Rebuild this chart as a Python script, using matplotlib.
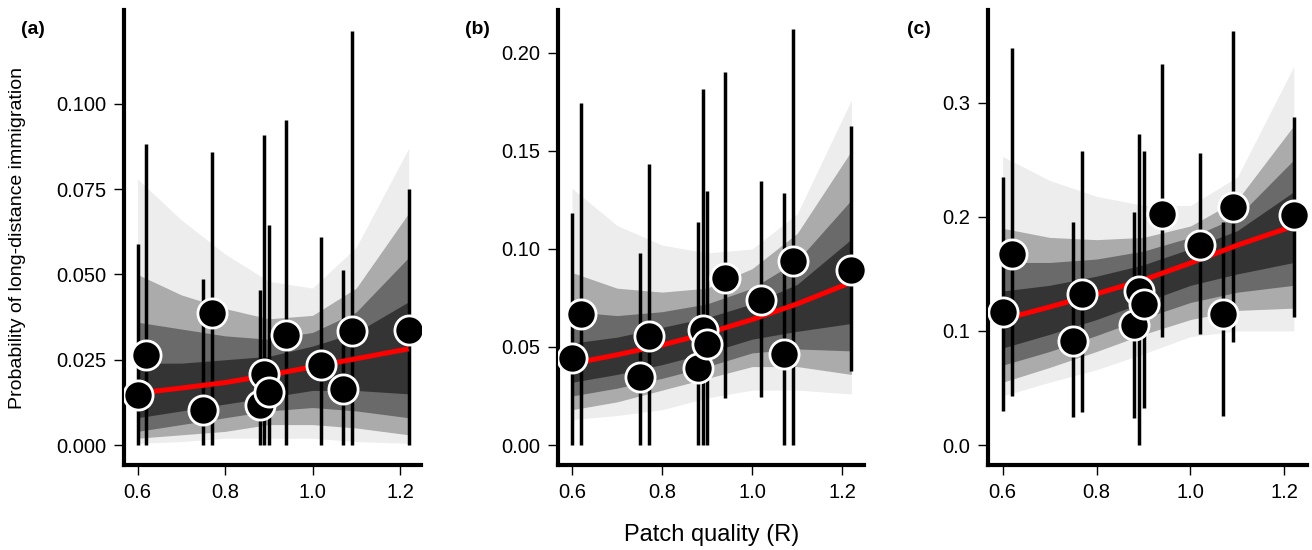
import numpy as np
import matplotlib.pyplot as plt

plt.rcParams['font.family'] = ['Liberation Sans', 'DejaVu Sans']

# patch quality (R) of the sites, same in all panels
quality = [0.60, 0.62, 0.75, 0.77, 0.88, 0.89, 0.90, 0.94, 1.02, 1.07, 1.09, 1.22]
grid = [0.60, 0.70, 0.80, 0.90, 1.00, 1.10, 1.22]

# ---- panel (a)
est_a = [0.0147, 0.0263, 0.0104, 0.0387, 0.0118, 0.0209, 0.0155, 0.0322, 0.0234, 0.0163, 0.0333, 0.0337]
lo_a = [0, 0, 0, 0, 0, 0, 0, 0, 0, 0, 0, 0]
hi_a = [0.0588, 0.0881, 0.0488, 0.0859, 0.0454, 0.0910, 0.0646, 0.0953, 0.0610, 0.0512, 0.1212, 0.0751]
mean_a = [0.0152, 0.0167, 0.0183, 0.0205, 0.0229, 0.0253, 0.0282]
outer_lo_a = [0.0005, 0.001, 0.002, 0.002, 0.002, 0.001, 0.0005]
outer_hi_a = [0.078, 0.066, 0.056, 0.048, 0.046, 0.058, 0.087]
q95_lo_a = [0.002, 0.003, 0.004, 0.006, 0.006, 0.005, 0.003]
q95_hi_a = [0.050, 0.044, 0.040, 0.037, 0.038, 0.046, 0.068]
q80_lo_a = [0.004, 0.006, 0.008, 0.010, 0.011, 0.010, 0.008]
q80_hi_a = [0.036, 0.034, 0.032, 0.031, 0.033, 0.039, 0.055]
q50_lo_a = [0.008, 0.010, 0.012, 0.014, 0.016, 0.016, 0.015]
q50_hi_a = [0.024, 0.024, 0.025, 0.026, 0.029, 0.033, 0.042]

# ---- panel (b)
est_b = [0.0442, 0.0670, 0.0349, 0.0555, 0.0394, 0.0585, 0.0514, 0.0850, 0.0738, 0.0464, 0.0938, 0.0895]
lo_b = [0, 0, 0, 0, 0, 0, 0, 0.0240, 0.0245, 0, 0, 0.0376]
hi_b = [0.1182, 0.1746, 0.0979, 0.1432, 0.1140, 0.1817, 0.1296, 0.1905, 0.1346, 0.1287, 0.2122, 0.1629]
mean_b = [0.0415, 0.046, 0.051, 0.057, 0.064, 0.072, 0.083]
outer_lo_b = [0.013, 0.015, 0.018, 0.024, 0.028, 0.028, 0.026]
outer_hi_b = [0.131, 0.112, 0.102, 0.098, 0.100, 0.118, 0.176]
q95_lo_b = [0.018, 0.022, 0.028, 0.034, 0.040, 0.040, 0.036]
q95_hi_b = [0.088, 0.080, 0.078, 0.080, 0.090, 0.108, 0.150]
q80_lo_b = [0.025, 0.029, 0.034, 0.040, 0.047, 0.049, 0.048]
q80_hi_b = [0.068, 0.066, 0.068, 0.072, 0.080, 0.094, 0.125]
q50_lo_b = [0.032, 0.036, 0.041, 0.047, 0.054, 0.058, 0.062]
q50_hi_b = [0.052, 0.055, 0.060, 0.065, 0.072, 0.082, 0.105]

# ---- panel (c)
est_c = [0.1162, 0.1676, 0.0916, 0.1324, 0.1048, 0.1348, 0.1232, 0.2029, 0.1753, 0.1146, 0.2090, 0.2013]
lo_c = [0.0297, 0.0426, 0.0245, 0.0288, 0.0233, 0.0, 0.0328, 0.0947, 0.0971, 0.0257, 0.0904, 0.1119]
hi_c = [0.2351, 0.3478, 0.1952, 0.2574, 0.2044, 0.2728, 0.2580, 0.3337, 0.2562, 0.1952, 0.3632, 0.2872]
mean_c = [0.110, 0.121, 0.1325, 0.1447, 0.1595, 0.1752, 0.192]
outer_lo_c = [0.043, 0.055, 0.066, 0.080, 0.095, 0.100, 0.100]
outer_hi_c = [0.253, 0.232, 0.218, 0.210, 0.210, 0.235, 0.332]
q95_lo_c = [0.055, 0.068, 0.082, 0.097, 0.110, 0.118, 0.120]
q95_hi_c = [0.190, 0.182, 0.180, 0.182, 0.192, 0.215, 0.280]
q80_lo_c = [0.070, 0.082, 0.096, 0.111, 0.125, 0.134, 0.140]
q80_hi_c = [0.160, 0.160, 0.163, 0.170, 0.182, 0.200, 0.250]
q50_lo_c = [0.085, 0.097, 0.110, 0.125, 0.140, 0.150, 0.160]
q50_hi_c = [0.135, 0.140, 0.148, 0.158, 0.172, 0.188, 0.222]

panels = [
    dict(tag='(a)', est=est_a, lo=lo_a, hi=hi_a, mean=mean_a,
         bands=[(outer_lo_a, outer_hi_a), (q95_lo_a, q95_hi_a),
                (q80_lo_a, q80_hi_a), (q50_lo_a, q50_hi_a)],
         yticks=[0, 0.025, 0.05, 0.075, 0.1], fmt='{:.3f}', ylim=(-0.00585, 0.1275),
         box=[124, 421], tagx=33),
    dict(tag='(b)', est=est_b, lo=lo_b, hi=hi_b, mean=mean_b,
         bands=[(outer_lo_b, outer_hi_b), (q95_lo_b, q95_hi_b),
                (q80_lo_b, q80_hi_b), (q50_lo_b, q50_hi_b)],
         yticks=[0, 0.05, 0.1, 0.15, 0.2], fmt='{:.2f}', ylim=(-0.0102, 0.2219),
         box=[558, 864], tagx=477),
    dict(tag='(c)', est=est_c, lo=lo_c, hi=hi_c, mean=mean_c,
         bands=[(outer_lo_c, outer_hi_c), (q95_lo_c, q95_hi_c),
                (q80_lo_c, q80_hi_c), (q50_lo_c, q50_hi_c)],
         yticks=[0, 0.1, 0.2, 0.3], fmt='{:.1f}', ylim=(-0.0175, 0.3813),
         box=[988, 1307], tagx=919),
]

W, H = 1312, 550
fig = plt.figure(figsize=(W / 100, H / 100), dpi=100)
band_alpha = [0.07, 0.28, 0.38, 0.5]

for p in panels:
    x0, x1 = p['box']
    ax = fig.add_axes([x0 / W, (H - 465) / H, (x1 - x0) / W, (465 - 10) / H])
    for (blo, bhi), al in zip(p['bands'], band_alpha):
        ax.fill_between(grid, blo, bhi, color='black', alpha=al, lw=0, zorder=1)
    ax.vlines(quality, p['lo'], p['hi'], color='black', lw=2.5, zorder=2)
    ax.plot(grid, p['mean'], color='red', lw=3.6, zorder=3, solid_capstyle='butt')
    ax.plot(quality, p['est'], 'o', ms=21, mfc='black', mec='white', mew=2, zorder=4)

    ax.set_xlim(0.569, 1.248)
    ax.set_ylim(*p['ylim'])
    ax.set_xticks([0.6, 0.8, 1.0, 1.2])
    ax.set_xticklabels(['0.6', '0.8', '1.0', '1.2'])
    ax.set_yticks(p['yticks'])
    ax.set_yticklabels([p['fmt'].format(v) for v in p['yticks']])
    for s in ['top', 'right']:
        ax.spines[s].set_visible(False)
    for s in ['left', 'bottom']:
        ax.spines[s].set_linewidth(3)
    ax.tick_params(direction='out', length=7, width=1, labelsize=14.5, pad=6)
    fig.text(p['tagx'] / W, 1 - 29 / H, p['tag'], fontsize=14, fontweight='bold',
             ha='center', va='center')

fig.text(18 / W, 1 - 238 / H, 'Probability of long-distance immigration', rotation=90,
         fontsize=14, ha='center', va='center')
fig.text(712 / W, 1 - 535 / H, 'Patch quality (R)', fontsize=17, ha='center', va='center')

fig.savefig('out.png', dpi=100)
